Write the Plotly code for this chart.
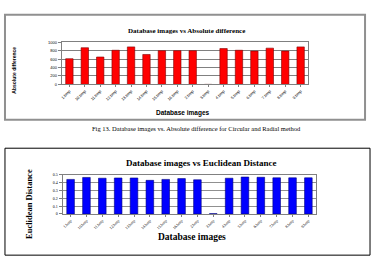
import plotly.graph_objects as go

W, H = 373, 265

categories = ["1.bmp", "10.bmp", "11.bmp", "12.bmp", "13.bmp", "14.bmp", "15.bmp", "16.bmp",
              "2.bmp", "3.bmp", "4.bmp", "5.bmp", "6.bmp", "7.bmp", "8.bmp", "9.bmp"]
abs_diff = [610, 870, 650, 810, 890, 710, 800, 800, 800, 0, 850, 810, 790, 860, 790, 890]
eucl_dist = [0.44, 0.465, 0.455, 0.458, 0.458, 0.428, 0.44, 0.45, 0.435, 0.004,
             0.455, 0.47, 0.467, 0.46, 0.46, 0.46]
abs_ticks = [0, 200, 400, 600, 800, 1000]
eucl_ticks = [0, 0.1, 0.2, 0.3, 0.4, 0.5]
eucl_ticktext = ["0", "0.1", "0.2", "0.3", "0.4", "0.5"]


def px(x):
    return x / W


def py(y):
    return 1 - y / H


fig = go.Figure()
fig.add_trace(go.Bar(x=categories, y=abs_diff, xaxis="x", yaxis="y",
                     marker=dict(color="#FF0000", line=dict(color="#800000", width=0.6))))
fig.add_trace(go.Bar(x=categories, y=eucl_dist, xaxis="x2", yaxis="y2",
                     marker=dict(color="#0000FF", line=dict(color="#000080", width=0.6))))

tickfont_sans = dict(family="Liberation Sans", size=4, color="#000")
tickfont_serif = dict(family="Liberation Serif", size=4, color="#000")

fig.update_layout(
    width=W, height=H, margin=dict(l=0, r=0, t=0, b=0),
    paper_bgcolor="white", plot_bgcolor="white", showlegend=False, bargap=0.52,
    xaxis=dict(domain=[px(60), px(308)], anchor="y", tickangle=-45, tickfont=tickfont_sans,
               showline=True, linecolor="#808080", linewidth=1, mirror=True,
               ticks="outside", ticklen=2, tickcolor="#808080", showgrid=False, fixedrange=True),
    yaxis=dict(domain=[py(83), py(40)], anchor="x", range=[0, 1000], tickvals=abs_ticks,
               tickfont=tickfont_sans, showline=True, linecolor="#808080", linewidth=1, mirror=True,
               ticks="outside", ticklen=3, tickcolor="#808080",
               gridcolor="#808080", gridwidth=1, zeroline=False),
    xaxis2=dict(domain=[px(61), px(316)], anchor="y2", tickangle=-45, tickfont=tickfont_serif,
                showline=True, linecolor="#808080", linewidth=1, mirror=True,
                ticks="outside", ticklen=2, tickcolor="#808080", showgrid=False),
    yaxis2=dict(domain=[py(215), py(175)], anchor="x2", range=[0, 0.5], tickvals=eucl_ticks,
                ticktext=eucl_ticktext, tickfont=tickfont_serif, showline=True,
                linecolor="#808080", linewidth=1, mirror=True,
                ticks="outside", ticklen=3, tickcolor="#808080",
                gridcolor="#909090", gridwidth=1, zeroline=False),
)

shapes = [
    dict(type="rect", xref="paper", yref="paper", x0=px(3), x1=px(365), y0=py(119), y1=py(12),
         line=dict(color="#909090", width=2)),
    dict(type="rect", xref="paper", yref="paper", x0=px(3), x1=px(370), y0=py(257), y1=py(148),
         line=dict(color="#000000", width=1)),
]
fig.update_layout(shapes=shapes)


def ann(text, x, y, size, family, bold=True, angle=0, color="#000"):
    t = f"<b>{text}</b>" if bold else text
    fig.add_annotation(text=t, x=px(x), y=py(y), xref="paper", yref="paper",
                       showarrow=False, textangle=angle, xanchor="center", yanchor="middle",
                       font=dict(size=size, family=family, color=color))


ann("Database images vs Absolute difference", 185, 29, 7, "Liberation Serif")
ann("Database images", 181, 112, 6.5, "Liberation Sans")
ann("Absolute difference", 12, 68, 5, "Liberation Sans", angle=-90)
ann("Fig 13. Database images vs. Absolute difference for Circular and Radial method",
    196, 128, 6.5, "Liberation Serif", bold=False)
ann("Database images vs Euclidean Distance", 201, 163, 9, "Liberation Serif")
ann("Database images", 191, 238, 9.5, "Liberation Serif")
ann("Euclidean Distance", 27, 205, 8.5, "Liberation Serif", angle=-90)

fig.write_html("out.html")
